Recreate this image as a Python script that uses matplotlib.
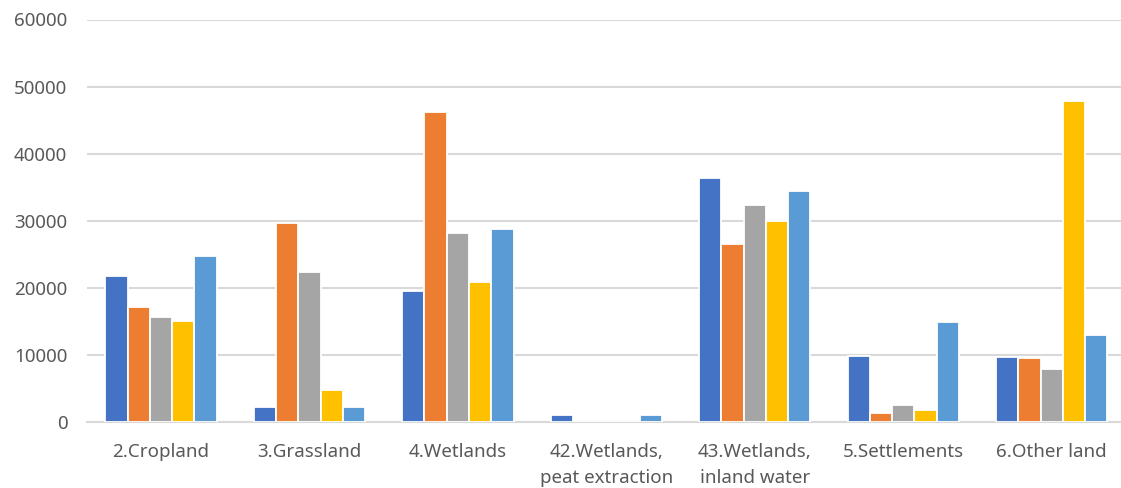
import matplotlib
matplotlib.use('Agg')
import matplotlib.pyplot as plt
import numpy as np

plt.rcParams['font.family'] = ['Noto Sans', 'DejaVu Sans']

# categorias e valores
categorias = ['2.Cropland', '3.Grassland', '4.Wetlands', '42.Wetlands,\npeat extraction',
              '43.Wetlands,\ninland water', '5.Settlements', '6.Other land']
serie1 = [21700, 2200, 19600, 1000, 36400, 9900, 9700]
serie2 = [17200, 29600, 46200, 0, 26600, 1300, 9500]
serie3 = [15600, 22400, 28200, 0, 32400, 2500, 7900]
serie4 = [15100, 4800, 20900, 0, 30000, 1800, 47900]
serie5 = [24800, 2300, 28700, 1000, 34500, 14900, 13000]
yticks = [0, 10000, 20000, 30000, 40000, 50000, 60000]

cores = ['#4472C4', '#ED7D31', '#A5A5A5', '#FFC000', '#5B9BD5']

fig = plt.figure(figsize=(11.21, 4.88), dpi=100)
ax = fig.add_axes([86.7 / 1121, 1 - 422 / 488, 1 - 86.7 / 1121, (422 - 19.5) / 488])

x = np.arange(len(categorias))
largura = 0.15
series = [serie1, serie2, serie3, serie4, serie5]
for i, (s, c) in enumerate(zip(series, cores)):
    ax.bar(x + (i - 2) * largura, s, width=largura, color=c, edgecolor='white',
           linewidth=1.3, zorder=3)

ax.set_ylim(0, 60000)
ax.set_xlim(-0.5, 6.5 - 5 / 148.5)
ax.set_yticks(yticks)
ax.set_yticklabels([str(v) for v in yticks])
ax.set_xticks(x)
ax.set_xticklabels(categorias, linespacing=1.6)
ax.tick_params(axis='both', length=0, labelsize=13.5, labelcolor='#595959')
ax.tick_params(axis='y', pad=14)
ax.tick_params(axis='x', pad=15)

ax.yaxis.grid(True, color='#D9D9D9', linewidth=1.5, zorder=0)
for lado in ['top', 'right', 'left']:
    ax.spines[lado].set_visible(False)
ax.spines['bottom'].set_color('#D9D9D9')
ax.spines['bottom'].set_linewidth(1.5)

fig.savefig('out.png', dpi=100)
